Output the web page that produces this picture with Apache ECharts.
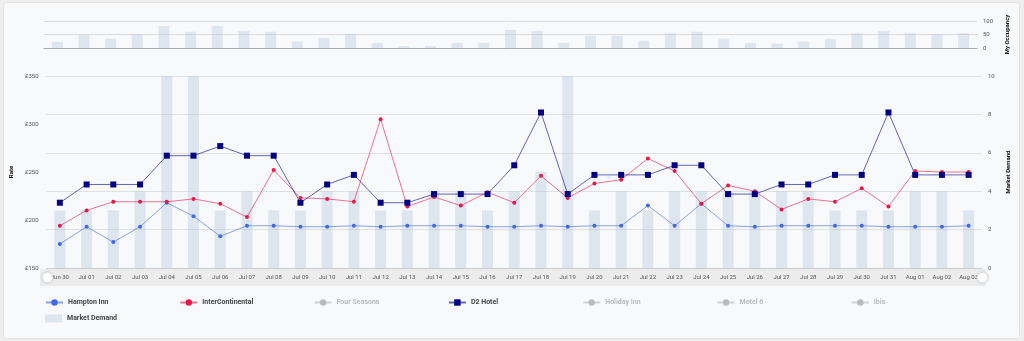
<!DOCTYPE html>
<html>
<head>
<meta charset="utf-8">
<script src="https://cdn.jsdelivr.net/npm/echarts@6/dist/echarts.min.js"></script>
<style>
  html, body { margin: 0; padding: 0; background: #efeeec; }
  #card { position: absolute; left: 3px; top: 2px; width: 1015px; height: 335px; background: #f8f9fb; border: 1px solid #e4e4e4; border-radius: 4px; }
  #chart { position: absolute; left: 0; top: 0; width: 1024px; height: 341px; }
</style>
</head>
<body>
<div id="card"></div>
<div id="chart"></div>
<script>
const categories = ['Jun 30','Jul 01','Jul 02','Jul 03','Jul 04','Jul 05','Jul 06','Jul 07','Jul 08','Jul 09','Jul 10','Jul 11','Jul 12','Jul 13','Jul 14','Jul 15','Jul 16','Jul 17','Jul 18','Jul 19','Jul 20','Jul 21','Jul 22','Jul 23','Jul 24','Jul 25','Jul 26','Jul 27','Jul 28','Jul 29','Jul 30','Jul 31','Aug 01','Aug 02','Aug 03'];
const myOccupancy = [23,48,34,51,82,60,82,63,60,24,37,52,19,7,7,19,19,67,63,19,46,46,27,55,60,34,19,16,24,33,55,63,55,51,55];
const marketDemand = [3,3,3,4,10,10,3,4,3,3,4,4,3,3,4,4,3,4,5,10,3,4,3,4,4,4,4,4,4,3,3,3,4,4,3];
const hamptonInn = [175,193,177,193,218,204,183,194,194,193,193,194,193,194,194,194,193,193,194,193,194,194,215,194,217,194,193,194,194,194,194,193,193,193,194];
const interContinental = [194,210,219,219,219,222,217,203,252,223,222,219,305,214,224,215,229,218,246,223,238,242,264,251,217,236,230,211,222,219,233,214,251,250,250];
const d2Hotel = [218,237,237,237,267,267,277,267,267,218,237,247,218,218,227,227,227,257,312,227,247,247,247,257,257,227,227,237,237,247,247,312,247,247,247];
const fourSeasons = [];
const holidayInn = [];
const motel6 = [];
const ibis = [];
const rateTicks = [150, 350, 50];
const demandTicks = [0, 10, 2];
const occupancyTicks = [0, 100, 50];
const legendNames = ['Hampton Inn','InterContinental','Four Seasons','D2 Hotel','Holiday Inn','Motel 6','Ibis','Market Demand'];
const hiddenNames = ['Four Seasons','Holiday Inn','Motel 6','Ibis'];

const chart = echarts.init(document.getElementById('chart'), null, {renderer: 'canvas'});
const FONT = 'Roboto';

function hotel(name, data, color, lineColor, symbol, size) {
  return {
    name: name, type: 'line', xAxisIndex: 1, yAxisIndex: 1, data: data,
    symbol: symbol, symbolSize: size, showAllSymbol: true,
    itemStyle: {color: color},
    lineStyle: {color: lineColor, width: 1},
    z: 5, animation: false
  };
}

// one legend component per item so every item gets the same slot width
const legends = legendNames.map((name, i) => {
  const row = i < 7 ? 0 : 1;
  const col = i < 7 ? i : 0;
  const sel = {};
  if (hiddenNames.indexOf(name) >= 0) sel[name] = false;
  return {
    left: 45 + col * 134.3, top: 299 + row * 15.5, padding: 0,
    itemWidth: 17, itemHeight: 8, itemGap: 3,
    textStyle: {fontSize: 7, fontWeight: 'bold', color: '#444', fontFamily: FONT},
    inactiveColor: '#bbbbbb',
    selected: sel,
    data: [name === 'Market Demand' ? {name: name, icon: 'rect'} : name]
  };
});

const option = {
  animation: false,
  textStyle: {fontFamily: FONT},
  graphic: [{
    type: 'rect', left: 40, top: 269, z: -10,
    shape: {width: 946, height: 17},
    style: {fill: '#ececec'}
  }],
  grid: [
    {left: 44, right: 47, top: 21, height: 27},
    {left: 45, right: 42, top: 76, height: 192}
  ],
  legend: legends,
  xAxis: [
    {
      type: 'category', gridIndex: 0, data: categories,
      axisLine: {lineStyle: {color: '#aaaaaa', width: 1}},
      axisTick: {show: false}, axisLabel: {show: false}
    },
    {
      type: 'category', gridIndex: 1, data: categories,
      axisLine: {lineStyle: {color: '#cccccc', width: 1}},
      axisTick: {show: false},
      axisLabel: {fontSize: 6, color: '#555', margin: 6, interval: 0, fontFamily: FONT}
    }
  ],
  yAxis: [
    {
      type: 'value', gridIndex: 0, position: 'right',
      min: occupancyTicks[0], max: occupancyTicks[1], interval: occupancyTicks[2],
      axisLine: {show: false}, axisTick: {show: false},
      axisLabel: {fontSize: 6, color: '#555', margin: 6, fontFamily: FONT},
      splitLine: {lineStyle: {color: '#dcdcdc'}},
      name: 'My Occupancy', nameLocation: 'middle', nameRotate: 90, nameGap: 24,
      nameTextStyle: {fontSize: 6, fontWeight: 'bold', color: '#111', fontFamily: FONT}
    },
    {
      type: 'value', gridIndex: 1, position: 'left',
      min: rateTicks[0], max: rateTicks[1], interval: rateTicks[2],
      axisLine: {show: false}, axisTick: {show: false},
      axisLabel: {fontSize: 6, color: '#555', margin: 8, formatter: v => '£' + v, fontFamily: FONT},
      splitLine: {show: false},
      name: 'Rate', nameLocation: 'middle', nameRotate: 90, nameGap: 26,
      nameTextStyle: {fontSize: 6, fontWeight: 'bold', color: '#111', fontFamily: FONT}
    },
    {
      type: 'value', gridIndex: 1, position: 'right',
      min: demandTicks[0], max: demandTicks[1], interval: demandTicks[2],
      axisLine: {show: false}, axisTick: {show: false},
      axisLabel: {fontSize: 6, color: '#555', margin: 6, fontFamily: FONT},
      splitLine: {lineStyle: {color: '#e0e0e0'}},
      name: 'Market Demand', nameLocation: 'middle', nameRotate: 90, nameGap: 22,
      nameTextStyle: {fontSize: 6, fontWeight: 'bold', color: '#111', fontFamily: FONT}
    }
  ],
  dataZoom: [{
    type: 'slider', xAxisIndex: 1, left: 45, right: 42, top: 272, height: 11,
    start: 0, end: 100,
    backgroundColor: 'rgba(0,0,0,0)', borderColor: 'rgba(0,0,0,0)',
    fillerColor: 'rgba(0,0,0,0)',
    dataBackground: {lineStyle: {opacity: 0}, areaStyle: {opacity: 0}},
    selectedDataBackground: {lineStyle: {opacity: 0}, areaStyle: {opacity: 0}},
    showDataShadow: false, showDetail: false, brushSelect: false,
    moveHandleSize: 0,
    handleIcon: 'circle', handleSize: '100%',
    handleStyle: {color: '#ffffff', borderColor: '#dddddd', borderWidth: 1, shadowBlur: 2, shadowColor: 'rgba(0,0,0,0.12)'},
    emphasis: {handleStyle: {color: '#ffffff', borderColor: '#cccccc'}}
  }],
  series: [
    {
      name: 'My Occupancy', type: 'bar', xAxisIndex: 0, yAxisIndex: 0, data: myOccupancy,
      barWidth: 11, itemStyle: {color: 'rgba(176,196,222,0.35)'}, silent: true
    },
    {
      name: 'Market Demand', type: 'bar', xAxisIndex: 1, yAxisIndex: 2, data: marketDemand,
      barWidth: 11, itemStyle: {color: 'rgba(176,196,222,0.38)'}, z: 1
    },
    hotel('Hampton Inn', hamptonInn, '#4169e1', 'rgba(65,105,225,0.6)', 'circle', 4),
    hotel('InterContinental', interContinental, '#e8174b', 'rgba(232,23,75,0.6)', 'circle', 4),
    hotel('Four Seasons', fourSeasons, '#999999', 'rgba(150,150,150,0.6)', 'circle', 4),
    hotel('D2 Hotel', d2Hotel, '#000080', 'rgba(0,0,128,0.6)', 'rect', 6),
    hotel('Holiday Inn', holidayInn, '#999999', 'rgba(150,150,150,0.6)', 'circle', 4),
    hotel('Motel 6', motel6, '#999999', 'rgba(150,150,150,0.6)', 'circle', 4),
    hotel('Ibis', ibis, '#999999', 'rgba(150,150,150,0.6)', 'circle', 4)
  ]
};
chart.setOption(option);
</script>
</body>
</html>
